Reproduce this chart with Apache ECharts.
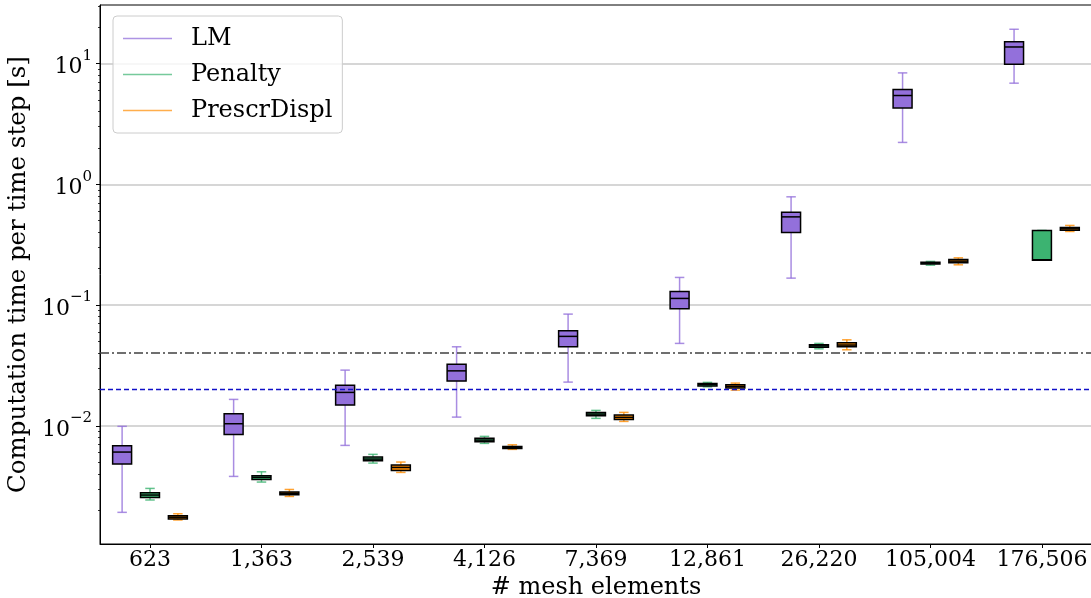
<!DOCTYPE html>
<html>
<head>
<meta charset="utf-8">
<script src="https://cdn.jsdelivr.net/npm/echarts@6/dist/echarts.min.js"></script>
<style>
  html, body { margin: 0; padding: 0; background: #fff; }
  #chart { width: 1091px; height: 598px; }
</style>
</head>
<body>
<div id="chart"></div>
<script>
// mesh sizes on the x axis
const categories = ['623', '1,363', '2,539', '4,126', '7,369', '12,861', '26,220', '105,004', '176,506'];

// box stats per mesh: [low whisker, Q1, median, Q3, high whisker], seconds
const lmStats = [
  [0.00192, 0.00482, 0.00606, 0.00683, 0.0099],
  [0.00381, 0.00849, 0.0104, 0.01257, 0.01654],
  [0.00688, 0.01483, 0.0189, 0.0217, 0.0289],
  [0.0118, 0.02344, 0.0285, 0.0324, 0.0451],
  [0.0230, 0.0451, 0.0550, 0.0611, 0.0841],
  [0.0481, 0.0930, 0.1134, 0.1296, 0.1692],
  [0.167, 0.399, 0.537, 0.587, 0.787],
  [2.22, 4.29, 5.43, 6.09, 8.36],
  [6.87, 9.86, 13.7, 15.1, 19.2]
];
const penaltyStats = [
  [0.00243, 0.00255, 0.00267, 0.00279, 0.00303],
  [0.00342, 0.0036, 0.00374, 0.00386, 0.00416],
  [0.00491, 0.00513, 0.0053, 0.00551, 0.0058],
  [0.00715, 0.00737, 0.00761, 0.00787, 0.00817],
  [0.01152, 0.0121, 0.0125, 0.01291, 0.01341],
  [0.02103, 0.02132, 0.02202, 0.02244, 0.02287],
  [0.0434, 0.0448, 0.0459, 0.0468, 0.0481],
  [0.2138, 0.2181, 0.2223, 0.2265, 0.2296],
  [0.2353, 0.2353, 0.237, 0.4146, 0.4146]
];
const prescrStats = [
  [0.00166, 0.00169, 0.00175, 0.0018, 0.00187],
  [0.0026, 0.00268, 0.00276, 0.00283, 0.00297],
  [0.00411, 0.00427, 0.00452, 0.00473, 0.00501],
  [0.00638, 0.0065, 0.00663, 0.00675, 0.00696],
  [0.01087, 0.0113, 0.01174, 0.01226, 0.01291],
  [0.01975, 0.02051, 0.02119, 0.02185, 0.02257],
  [0.0426, 0.0451, 0.0466, 0.0487, 0.0515],
  [0.2153, 0.2234, 0.2309, 0.2385, 0.2459],
  [0.4064, 0.417, 0.4276, 0.439, 0.456]
];

// horizontal reference lines
const refDashDot = 0.04;
const refDashed = 0.02;

const FONT = 'DejaVu Serif';
const BOX_W = 0.17;

// minor log ticks 2..9 per decade
const minorTicks = [];
for (let e = -3; e <= 1; e++) {
  for (let m = 2; m <= 9; m++) minorTicks.push(m * Math.pow(10, e));
}

function toData(stats) {
  return stats.map((s, i) => [i + 1].concat(s));
}

//画箱线图：须线用系列色，箱体黑边
function boxRenderer(offset, fill, whisker) {
  return function (params, api) {
    const x = api.value(0) + offset;
    const low = api.coord([x, api.value(1)]);
    const q1 = api.coord([x, api.value(2)]);
    const med = api.coord([x, api.value(3)]);
    const q3 = api.coord([x, api.value(4)]);
    const high = api.coord([x, api.value(5)]);
    const half = api.coord([x + BOX_W / 2, api.value(3)])[0] - med[0];
    const cap = half / 2;
    const wStyle = { stroke: whisker, lineWidth: 1.5 };
    return {
      type: 'group',
      children: [
        { type: 'line', shape: { x1: med[0], y1: q3[1], x2: med[0], y2: high[1] }, style: wStyle },
        { type: 'line', shape: { x1: med[0], y1: q1[1], x2: med[0], y2: low[1] }, style: wStyle },
        { type: 'line', shape: { x1: med[0] - cap, y1: high[1], x2: med[0] + cap, y2: high[1] }, style: wStyle },
        { type: 'line', shape: { x1: med[0] - cap, y1: low[1], x2: med[0] + cap, y2: low[1] }, style: wStyle },
        { type: 'rect', shape: { x: med[0] - half, y: q3[1], width: half * 2, height: q1[1] - q3[1] },
          style: { fill: fill, stroke: '#000', lineWidth: 1.5 } },
        { type: 'line', shape: { x1: med[0] - half, y1: med[1], x2: med[0] + half, y2: med[1] },
          style: { stroke: '#000', lineWidth: 1.5 } }
      ]
    };
  };
}

const chart = echarts.init(document.getElementById('chart'));

const option = {
  animation: false,
  grid: {
    left: 100, right: -1, top: 5, bottom: 54,
    outerBoundsMode: 'none',
    show: true, borderColor: '#000', borderWidth: 1, backgroundColor: 'transparent'
  },
  legend: {
    orient: 'vertical',
    left: 113,
    top: 16,
    padding: [10, 10, 10, 10],
    itemGap: 11,
    itemWidth: 49,
    itemHeight: 1.5,
    icon: 'rect',
    backgroundColor: 'rgba(255,255,255,0.8)',
    borderColor: '#cccccc',
    borderWidth: 1,
    borderRadius: 4,
    textStyle: { fontFamily: FONT, fontSize: 24, color: '#000', padding: [0, 0, 0, 14], lineHeight: 25 },
    data: [
      { name: 'LM', itemStyle: { color: 'rgba(147,112,219,0.75)' } },
      { name: 'Penalty', itemStyle: { color: 'rgba(60,179,113,0.7)' } },
      { name: 'PrescrDispl', itemStyle: { color: 'rgba(255,140,0,0.7)' } }
    ]
  },
  xAxis: {
    type: 'value',
    min: 0.5516,
    max: 9.449,
    name: '# mesh elements',
    nameLocation: 'middle',
    nameGap: 24,
    nameTextStyle: { fontFamily: FONT, fontSize: 24, color: '#000' },
    axisLine: { show: true, lineStyle: { color: '#000', width: 1 } },
    axisTick: { show: true, length: 4, lineStyle: { color: '#000' }, customValues: [1, 2, 3, 4, 5, 6, 7, 8, 9] },
    axisLabel: {
      customValues: [1, 2, 3, 4, 5, 6, 7, 8, 9],
      formatter: v => categories[Math.round(v) - 1] || '',
      fontFamily: FONT, fontSize: 22, color: '#000', margin: 5
    },
    splitLine: { show: false }
  },
  yAxis: [
    {
      type: 'log',
      logBase: 10,
      min: 0.00105,
      max: 30.5,
      name: 'Computation time per time step [s]',
      nameLocation: 'middle',
      nameGap: 65,
      nameTextStyle: { fontFamily: FONT, fontSize: 24.5, color: '#000' },
      axisLine: { show: true, lineStyle: { color: '#000', width: 1 } },
      axisTick: { show: true, length: 4, lineStyle: { color: '#000' }, customValues: [0.01, 0.1, 1, 10] },
      axisLabel: {
        customValues: [0.01, 0.1, 1, 10],
        margin: 8,
        formatter: v => {
          const e = Math.round(Math.log10(v));
          return '{b|10}{s|' + (e < 0 ? '\u2212' + (-e) : e) + '}';
        },
        rich: {
          b: { fontFamily: FONT, fontSize: 22, color: '#000', lineHeight: 30, verticalAlign: 'bottom' },
          s: { fontFamily: FONT, fontSize: 15, color: '#000', lineHeight: 15, verticalAlign: 'top' }
        }
      },
      splitLine: { show: true, showMinLine: true, showMaxLine: true, lineStyle: { color: '#c8c8c8', width: 1.5 } }
    },
    {
      type: 'log',
      logBase: 10,
      min: 0.00105,
      max: 30.5,
      position: 'left',
      axisLine: { show: false },
      axisLabel: { show: false },
      splitLine: { show: false },
      axisTick: { show: true, length: 2, lineStyle: { color: '#000', width: 0.8 }, customValues: minorTicks }
    }
  ],
  series: [
    {
      name: 'LM',
      type: 'custom',
      itemStyle: { color: '#9370db' },
      renderItem: boxRenderer(-0.25, '#9370db', 'rgba(147,112,219,0.8)'),
      encode: { x: 0, y: [1, 2, 3, 4, 5] },
      data: toData(lmStats),
      z: 3
    },
    {
      name: 'Penalty',
      type: 'custom',
      itemStyle: { color: '#3cb371' },
      renderItem: boxRenderer(0, '#3cb371', 'rgba(60,179,113,0.8)'),
      encode: { x: 0, y: [1, 2, 3, 4, 5] },
      data: toData(penaltyStats),
      z: 3
    },
    {
      name: 'PrescrDispl',
      type: 'custom',
      itemStyle: { color: '#ff8c00' },
      renderItem: boxRenderer(0.25, '#ff8c00', 'rgba(255,140,0,0.8)'),
      encode: { x: 0, y: [1, 2, 3, 4, 5] },
      data: toData(prescrStats),
      z: 3,
      markLine: {
        silent: true,
        symbol: 'none',
        label: { show: false },
        data: [
          { yAxis: refDashDot, lineStyle: { color: '#404040', width: 1.5, type: [9, 3, 2, 3] } },
          { yAxis: refDashed, lineStyle: { color: '#1010c8', width: 1.3, type: [5, 3] } }
        ]
      }
    }
  ]
};

chart.setOption(option);
</script>
</body>
</html>
